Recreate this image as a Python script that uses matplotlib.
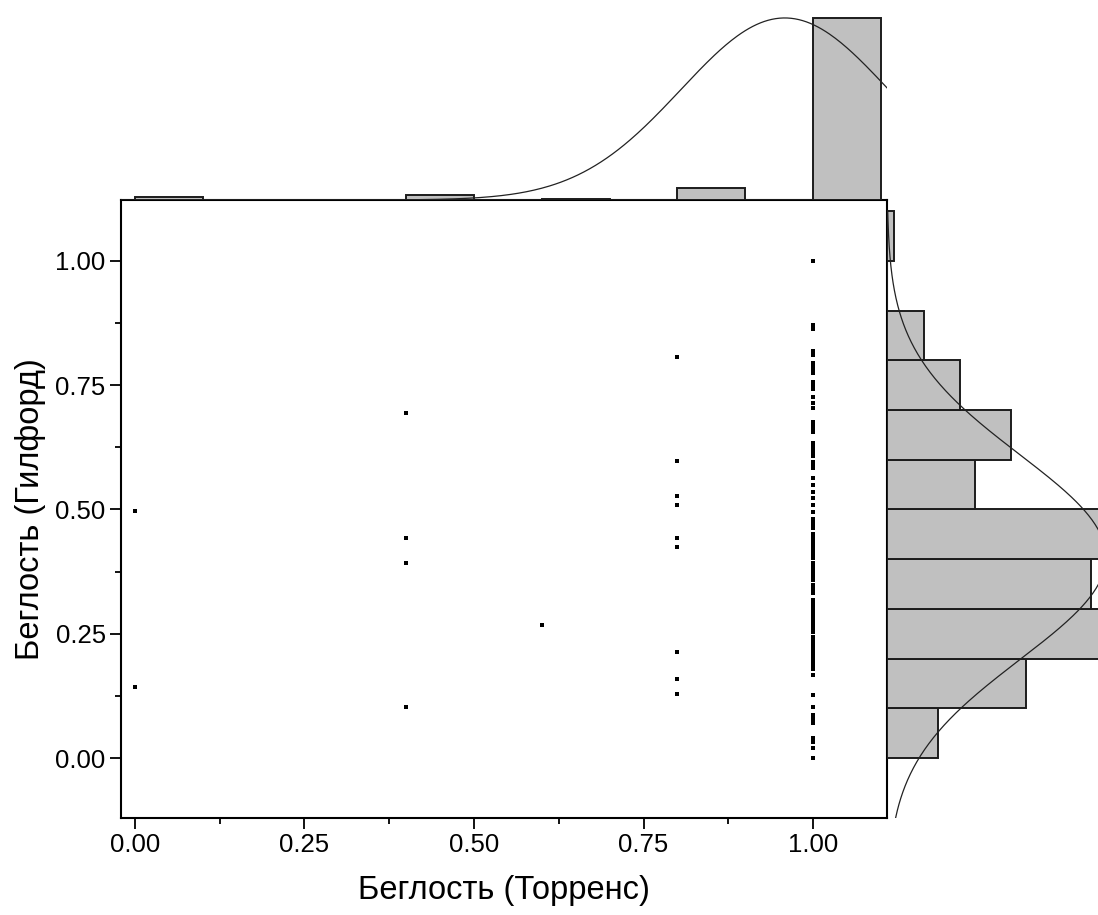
import numpy as np
import matplotlib
matplotlib.use("Agg")
import matplotlib.pyplot as plt
from matplotlib.ticker import MultipleLocator

plt.rcParams['font.family'] = ['Liberation Sans', 'DejaVu Sans']

# points that are not at Torrens = 1.00
x_other = [0.0, 0.0,
           0.4, 0.4, 0.4, 0.4,
           0.6,
           0.8, 0.8, 0.8, 0.8, 0.8, 0.8, 0.8, 0.8, 0.8]
y_other = [0.497, 0.142,
           0.694, 0.442, 0.392, 0.103,
           0.267,
           0.807, 0.597, 0.527, 0.510, 0.442, 0.425, 0.214, 0.158, 0.128]

# Guilford scores of the points with Torrens = 1.00
y_at_one = [0.000, 0.021, 0.032, 0.041, 0.070, 0.078, 0.087,
            0.103, 0.127, 0.167, 0.180, 0.182, 0.184, 0.186, 0.188, 0.190,
            0.192, 0.194, 0.195, 0.196, 0.198, 0.199,
            0.201, 0.204, 0.207, 0.210, 0.213, 0.216, 0.219, 0.222, 0.225,
            0.228, 0.231, 0.234, 0.237, 0.240, 0.244, 0.253, 0.256, 0.259,
            0.263, 0.266, 0.270, 0.273, 0.277, 0.280, 0.284, 0.288, 0.293, 0.297,
            0.301, 0.303, 0.306, 0.309, 0.312, 0.315, 0.318, 0.331, 0.334,
            0.337, 0.340, 0.343, 0.346, 0.349, 0.359, 0.361, 0.364, 0.367,
            0.370, 0.373, 0.376, 0.379, 0.382, 0.385, 0.388, 0.390, 0.392,
            0.403, 0.406, 0.409, 0.412, 0.415, 0.418, 0.421, 0.424, 0.427,
            0.430, 0.433, 0.436, 0.439, 0.442, 0.445, 0.448, 0.451,
            0.462, 0.465, 0.468, 0.471, 0.474, 0.477, 0.480, 0.495,
            0.509, 0.523, 0.535, 0.549, 0.563, 0.583, 0.587, 0.591, 0.595,
            0.607, 0.610, 0.613, 0.616, 0.619, 0.622, 0.625, 0.628, 0.631,
            0.634, 0.655, 0.659, 0.663, 0.667, 0.671, 0.676,
            0.704, 0.714, 0.726, 0.743, 0.750, 0.757, 0.774, 0.781, 0.788, 0.795,
            0.810, 0.819, 0.863, 0.871,
            1.000]

edges = [0.0, 0.1, 0.2, 0.3, 0.4, 0.5, 0.6, 0.7, 0.8, 0.9, 1.0, 1.1]

x = np.array(x_other + [1.0] * len(y_at_one))
y = np.array(y_other + y_at_one)

W, H = 1098, 915
fig = plt.figure(figsize=(W / 100, H / 100), dpi=100)

# pixel boxes: main plot 121..887 x 200..818 (from top)
ax = fig.add_axes([121 / W, 97 / H, 766 / W, 618 / H])
ax_top = fig.add_axes([121 / W, 715 / H, 766 / W, 200 / H])
ax_right = fig.add_axes([887 / W, 97 / H, 320 / W, 618 / H])

bar_face = "#c0c0c0"
bar_edge = "#1c1c1c"

ax.plot(x, y, "s", color="black", ms=3.0, mew=0)
ax.set_xlim(-0.0206, 1.109)
ax.set_ylim(-0.1207, 1.1227)
ax.xaxis.set_major_locator(MultipleLocator(0.25))
ax.xaxis.set_minor_locator(MultipleLocator(0.125))
ax.yaxis.set_major_locator(MultipleLocator(0.25))
ax.yaxis.set_minor_locator(MultipleLocator(0.125))
ax.xaxis.set_major_formatter(plt.FormatStrFormatter("%.2f"))
ax.yaxis.set_major_formatter(plt.FormatStrFormatter("%.2f"))
ax.tick_params(which="major", direction="out", length=8, width=1.3, labelsize=18.5, pad=3)
ax.tick_params(which="minor", direction="out", length=4.5, width=1.3)
for s in ax.spines.values():
    s.set_linewidth(1.5)
ax.set_xlabel("Беглость (Торренс)", fontsize=23.5, labelpad=13)
ax.set_ylabel("Беглость (Гилфорд)", fontsize=23.5, labelpad=7)

# top marginal histogram + normal curve
cnt_x, _, _ = ax_top.hist(x, bins=edges, color=bar_face, edgecolor=bar_edge, linewidth=1.4)
xs = np.linspace(-0.02, 1.109, 400)
mx, sx = x.mean(), x.std(ddof=1)
ax_top.plot(xs, cnt_x.max() * np.exp(-0.5 * ((xs - mx) / sx) ** 2), color="#222222", lw=0.9)
ax_top.set_xlim(ax.get_xlim())
ax_top.set_ylim(0, 156)
ax_top.axis("off")

# right marginal histogram + normal curve
cnt_y, _, _ = ax_right.hist(y, bins=edges, orientation="horizontal",
                            color=bar_face, edgecolor=bar_edge, linewidth=1.4)
ys = np.linspace(-0.1207, 1.1, 400)
my, sy = y.mean(), y.std(ddof=1)
ax_right.plot(cnt_y.max() * np.exp(-0.5 * ((ys - my) / sy) ** 2), ys, color="#222222", lw=0.9)
ax_right.set_ylim(ax.get_ylim())
ax_right.set_xlim(0, 320 / 7.3)
ax_right.axis("off")

fig.savefig("out.png", dpi=100)
